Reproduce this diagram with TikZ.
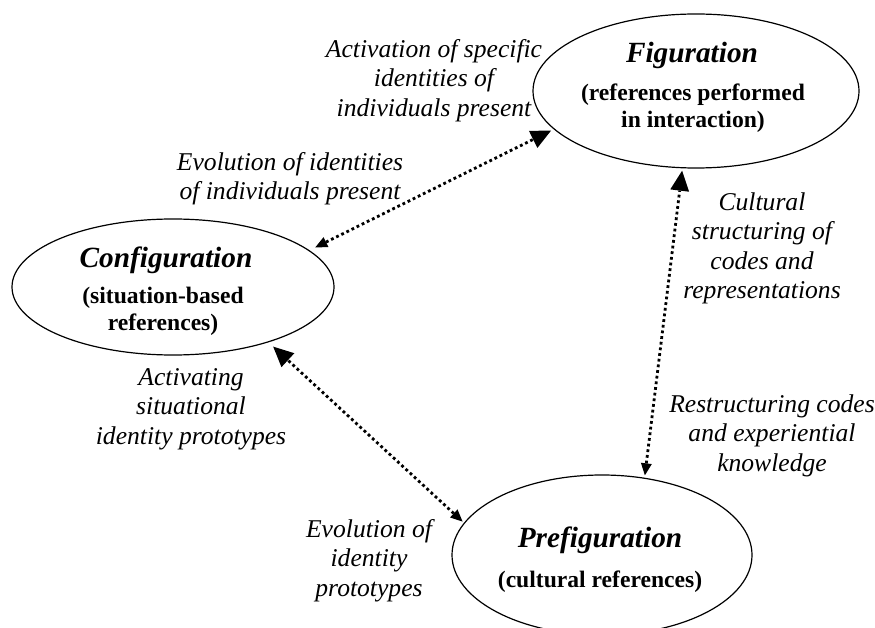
\documentclass[tikz,border=0pt]{standalone}
\usepackage{fontspec}
\setmainfont{Liberation Serif}
\usetikzlibrary{shapes.geometric,arrows.meta}
\tikzset{
  phase/.style={ellipse, draw, line width=1.2pt, inner sep=0pt, outer sep=0pt},
  lbl/.style={anchor=north, inner sep=0pt, align=center, font=\fontsize{25.6}{29.5}\selectfont\itshape},
  ttl/.style={anchor=base, inner sep=0pt, font=\fontsize{29.3}{33.7}\selectfont\bfseries\itshape},
  subt/.style={anchor=north, inner sep=0pt, align=center, font=\fontsize{23.6}{27}\selectfont\bfseries},
  link/.style={line width=2.8pt, dash pattern=on 2.8pt off 2.9pt,
    {Triangle[length=12pt,width=11pt,line width=0pt]}-{Triangle[length=20pt,width=19pt,line width=0pt]}}
}
\begin{document}
\begin{tikzpicture}[x=1pt,y=-1pt]
\fill[white] (0,0) rectangle (875,628);
\useasboundingbox (0,0) rectangle (875,628);
\clip (0,0) rectangle (875,628);
% ellipses
\node[phase, minimum width=326pt, minimum height=154pt] (fig) at (696,91) {};
\node[phase, minimum width=322pt, minimum height=136pt] (conf) at (173,287) {};
\node[phase, minimum width=300pt, minimum height=160pt] (pre) at (602,555) {};
% titles
\node[ttl] (figt) at (692,63) {Figuration};
\node[subt] (figs) at (693,81.1) {\strut(references performed\\in interaction)};
\node[ttl] (conft) at (166,268) {Configuration};
\node[subt] (confs) at (163,284.1) {\strut(situation-based\\references)};
\node[ttl] (pret) at (600,547) {Prefiguration};
\node[subt] (pres) at (600,568.1) {\strut(cultural references)};
% labels
\node[lbl] (l1) at (434,36.35) {\strut Activation of specific\\identities of\\individuals present};
\node[lbl] (l2) at (290,149.35) {\strut Evolution of identities\\of individuals present};
\node[lbl] (l3) at (762,189.35) {\strut Cultural\\structuring of\\codes and\\representations};
\node[lbl] (l4) at (191,364.35) {\strut Activating\\situational\\identity prototypes};
\node[lbl] (l5) at (772,391.35) {\strut Restructuring codes\\and experiential\\knowledge};
\node[lbl] (l6) at (369,516.35) {\strut Evolution of\\identity\\prototypes};
% connectors
\draw[link, shorten <=7pt, shorten >=3.5pt] (conf.15.9) -- (fig.195.5);
\draw[link, shorten <=3pt, shorten >=3pt] (pre.61.7) -- (fig.260.1);
\draw[link, shorten <=2.4pt, shorten >=7pt] (pre.167.6) -- (conf.330.4);
\end{tikzpicture}
\end{document}
